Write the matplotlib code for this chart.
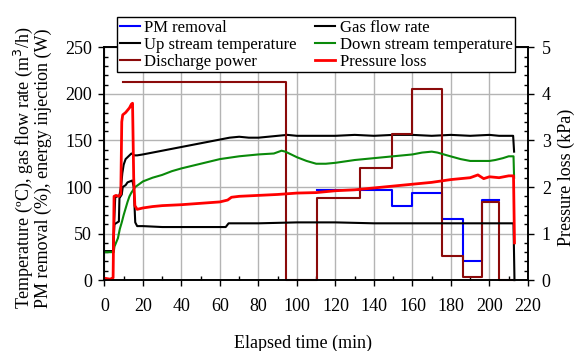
import matplotlib
matplotlib.use("Agg")
import matplotlib.pyplot as plt
from matplotlib.ticker import MultipleLocator

plt.rcParams['font.family'] = ['Liberation Serif', 'DejaVu Serif']
plt.rcParams['font.size'] = 13

# up stream temperature (degC)
t_up = [0, 4.5, 5.0, 5.6, 7.8, 8.6, 9.3, 10, 11, 12.5, 14, 15.5, 17, 20, 25, 30, 40, 50,
        60, 65, 70, 75, 80, 85, 90, 95, 100, 110, 120, 130, 140, 150, 160, 170, 180,
        190, 200, 205, 210, 212.3, 212.8]
v_up = [31, 31, 60, 89, 91, 100, 115, 124, 130, 133, 136, 134, 134, 135, 137, 139, 143, 147,
        151, 153, 154, 153, 153, 154, 155, 156, 155, 155, 155, 156, 155, 156, 156, 155, 156,
        155, 156, 155, 155, 155, 138]

# gas flow rate (m3/h)
t_gas = [0, 4.5, 5.2, 7.5, 7.8, 9, 9.5, 11, 12, 14.5, 15.2, 16, 17, 20, 30, 40, 50, 63,
         64.5, 80, 100, 120, 140, 160, 180, 200, 212.5, 213]
v_gas = [31, 31, 60, 63, 88, 92, 100, 102, 105, 107, 100, 62, 58, 58, 57, 57, 57, 57,
         61, 61, 62, 62, 61, 61, 61, 61, 61, 0]

# down stream temperature (degC)
t_down = [0, 4.8, 5.2, 6, 7, 8, 9, 10, 11, 12, 13, 14, 15, 16, 18, 20, 25, 30, 35, 40, 50,
          60, 70, 80, 88, 92, 94, 97, 100, 105, 110, 115, 120, 130, 140, 150, 160, 165,
          170, 173, 178, 185, 190, 195, 200, 203, 207, 210, 212.5, 212.8]
v_down = [30, 30, 36, 40, 45, 55, 62, 70, 77, 84, 90, 94, 97, 100, 103, 106, 110, 113, 117,
          120, 125, 130, 133, 135, 136, 139, 138, 135, 132, 128, 125, 125, 126, 129, 131,
          133, 135, 137, 138, 137, 134, 130, 128, 128, 128, 129, 131, 133, 133, 110]

# pressure loss (kPa)
t_dp = [0, 3, 4.5, 5.0, 6, 7.5, 8.5, 9.0, 9.5, 11, 12, 13, 14, 14.6, 15.2, 15.8, 17, 20, 25,
        30, 40, 50, 60, 64, 66, 70, 80, 90, 100, 110, 120, 130, 140, 150, 160, 170, 180,
        190, 194, 197, 200, 205, 210, 212.5, 213]
v_dp = [0.04, 0.02, 0.05, 1.8, 1.82, 1.8, 1.85, 3.4, 3.55, 3.6, 3.65, 3.7, 3.78, 3.8, 2.2,
        1.6, 1.52, 1.55, 1.58, 1.6, 1.62, 1.65, 1.68, 1.72, 1.78, 1.8, 1.82, 1.84, 1.87,
        1.88, 1.92, 1.94, 1.98, 2.02, 2.06, 2.1, 2.16, 2.2, 2.26, 2.18, 2.22, 2.2, 2.24,
        2.24, 0.8]

# discharge power (W), step changes
t_pow = [9.4, 94.3, 110.2, 132.5, 149.5, 159.8, 175.5, 186.5, 196, 205, 213]
v_pow = [213, 0, 88, 120, 157, 205, 26, 3, 84, 0, 0]

# PM removal (%), step changes
t_pm = [110.2, 149.5, 159.8, 175.5, 186.5, 196, 205]
v_pm = [97, 80, 94, 66, 21, 86, 86]

fig = plt.figure(figsize=(5.77, 3.51), dpi=100)
ax = fig.add_axes([0.181, 0.202, 0.734, 0.663])
ax2 = ax.twinx()

l_pm, = ax.plot(t_pm, v_pm, color='#0000ff', lw=1.5, drawstyle='steps-post', clip_on=False)
l_up, = ax.plot(t_up, v_up, color='black', lw=1.5, clip_on=False)
l_pow, = ax.plot(t_pow, v_pow, color='#8b0a0a', lw=1.5, drawstyle='steps-post', clip_on=False)
l_gas, = ax.plot(t_gas, v_gas, color='black', lw=1.5, clip_on=False)
l_down, = ax.plot(t_down, v_down, color='#0a8a0a', lw=1.5, clip_on=False)
l_dp, = ax2.plot(t_dp, v_dp, color='#ff0000', lw=2.0, clip_on=False)

ax.set_xlim(0, 220)
ax.set_ylim(0, 250)
ax2.set_ylim(0, 5)
ax.xaxis.set_major_locator(MultipleLocator(20))
ax.xaxis.set_minor_locator(MultipleLocator(10))
ax.yaxis.set_major_locator(MultipleLocator(50))
ax.yaxis.set_minor_locator(MultipleLocator(10))
ax2.yaxis.set_major_locator(MultipleLocator(1))
ax2.yaxis.set_minor_locator(MultipleLocator(0.2))

ax.grid(True, which='major', color='#b4b4b4', lw=1.0)
ax.set_axisbelow(True)
for a in (ax, ax2):
    a.tick_params(which='major', direction='out', length=4, width=1)
    a.tick_params(which='minor', direction='in', length=3, width=1)
    for s in a.spines.values():
        s.set_linewidth(1.2)
ax.tick_params(axis='x', which='major', pad=9)
ax.tick_params(axis='y', which='major', pad=5)
ax2.tick_params(axis='y', which='major', pad=6)

fig.text(32 / 577, 1 - 168 / 351,
         "Temperature (ºC), gas flow rate (m$^3$/h)\nPM removal (%), energy injection (W)",
         rotation=90, ha='center', va='center', multialignment='center', linespacing=1.0)
fig.text(303 / 577, 1 - 343 / 351, "Elapsed time (min)", ha='center', va='center')
fig.text(566 / 577, 1 - 177 / 351, "Pressure loss (kPa)", rotation=90, ha='center', va='center')

handles = [l_pm, l_up, l_pow, l_gas, l_down, l_dp]
labels = ["PM removal", "Up stream temperature", "Discharge power",
          "Gas flow rate", "Down stream temperature", "Pressure loss"]
leg = fig.legend(handles, labels, ncol=2, loc='lower left', mode='expand',
                 bbox_to_anchor=(117 / 577, 1 - 72 / 351, 398 / 577, 57 / 351),
                 fontsize=12, frameon=True, fancybox=False, framealpha=1,
                 edgecolor='black', borderpad=0.15, labelspacing=0.05,
                 handlelength=1.2, handletextpad=0.3, borderaxespad=0)
leg.get_frame().set_linewidth(1.0)

fig.savefig("out.png", dpi=100)
